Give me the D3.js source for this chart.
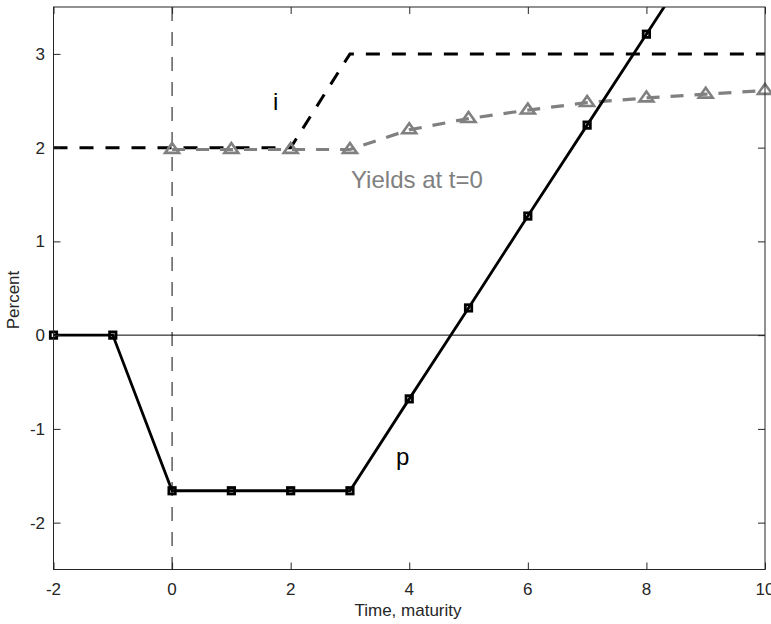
<!DOCTYPE html>
<html>
<head>
<meta charset="utf-8">
<script src="https://cdn.jsdelivr.net/npm/d3@7"></script>
<style>
  html, body { margin: 0; padding: 0; background: #fff; }
  svg { display: block; font-family: "Liberation Sans", Arial, Helvetica, sans-serif; }
</style>
</head>
<body>
<svg id="chart" width="771" height="624"></svg>
<script>
// Time / maturity grid
const tP = [-2, -1, 0, 1, 2, 3, 4, 5, 6, 7, 8, 9, 10];
// Price path p
const pVals = [0, 0, -1.66, -1.66, -1.66, -1.66, -0.68, 0.29, 1.27, 2.24, 3.21, 4.18, 5.15];
// Interest rate path i
const tI = [-2, 2, 3, 10];
const iVals = [2, 2, 3, 3];
// Yield curve at t=0
const tY = [0, 1, 2, 3, 4, 5, 6, 7, 8, 9, 10];
const yVals = [1.98, 1.98, 1.98, 1.98, 2.19, 2.31, 2.40, 2.48, 2.53, 2.57, 2.61];
// Axis ticks
const xTicks = [-2, 0, 2, 4, 6, 8, 10];
const yTicks = [-2, -1, 0, 1, 2, 3];

const svg = d3.select("#chart");
const pLeft = 53.5, pRight = 765, pTop = 7, pBottom = 569.5;
const axisColor = "#262626";
const grey = "#808080";

const x = d3.scaleLinear().domain([-2, 10]).range([pLeft, pRight]);
const y = d3.scaleLinear().domain([-2.5, 3.5]).range([pBottom, pTop]);

svg.append("defs").append("clipPath").attr("id", "plotClip")
  .append("rect").attr("x", pLeft).attr("y", pTop)
  .attr("width", pRight - pLeft).attr("height", pBottom - pTop);

const plot = svg.append("g");
const lineClip = plot.append("g").attr("clip-path", "url(#plotClip)");

// Reference lines: t = 0 and zero level
lineClip.append("line")
  .attr("x1", x(0)).attr("x2", x(0)).attr("y1", pTop).attr("y2", pBottom)
  .attr("stroke", "#333").attr("stroke-width", 1.2)
  .attr("stroke-dasharray", "14,11");
lineClip.append("line")
  .attr("x1", pLeft).attr("x2", pRight).attr("y1", y(0)).attr("y2", y(0))
  .attr("stroke", "#000").attr("stroke-width", 1);

const line = d3.line().x(d => x(d[0])).y(d => y(d[1]));

// i
lineClip.append("path")
  .datum(tI.map((t, k) => [t, iVals[k]]))
  .attr("d", line).attr("fill", "none")
  .attr("stroke", "#000").attr("stroke-width", 3)
  .attr("stroke-dasharray", "14,12");

// Yields at t=0
lineClip.append("path")
  .datum(tY.map((t, k) => [t, yVals[k]]))
  .attr("d", line).attr("fill", "none")
  .attr("stroke", grey).attr("stroke-width", 3.2)
  .attr("stroke-dasharray", "13,11");

const [yLo, yHi] = y.domain();
plot.append("g").selectAll("path")
  .data(tY.map((t, k) => [t, yVals[k]]).filter(d => d[1] >= yLo && d[1] <= yHi))
  .join("path")
  .attr("transform", d => `translate(${x(d[0])},${y(d[1])})`)
  .attr("d", "M0,-6.5L7,3.4L-7,3.4Z")
  .attr("fill", "none").attr("stroke", grey).attr("stroke-width", 2.6)
  .attr("stroke-linejoin", "miter");

// p
lineClip.append("path")
  .datum(tP.map((t, k) => [t, pVals[k]]))
  .attr("d", line).attr("fill", "none")
  .attr("stroke", "#000").attr("stroke-width", 2.8);

plot.append("g").selectAll("rect")
  .data(tP.map((t, k) => [t, pVals[k]]).filter(d => d[1] >= yLo && d[1] <= yHi))
  .join("rect")
  .attr("x", d => x(d[0]) - 3.2).attr("y", d => y(d[1]) - 3.2)
  .attr("width", 6.4).attr("height", 6.4)
  .attr("fill", "none").attr("stroke", "#000").attr("stroke-width", 2.8);

// Annotations
plot.append("text").attr("x", 273).attr("y", 110)
  .attr("font-size", 24).attr("fill", "#000").text("i");
plot.append("text").attr("x", 396).attr("y", 465)
  .attr("font-size", 24).attr("fill", "#000").text("p");
plot.append("text").attr("x", 351).attr("y", 188)
  .attr("font-size", 24).attr("fill", grey).text("Yields at t=0");

// Axes box with inward ticks on all sides
const tickLen = 7;
const ax = svg.append("g").attr("stroke", axisColor).attr("stroke-width", 1).attr("fill", "none");
ax.append("rect").attr("x", pLeft).attr("y", pTop)
  .attr("width", pRight - pLeft).attr("height", pBottom - pTop);

const xAxisB = d3.axisBottom(x).tickValues(xTicks).tickSize(-tickLen).tickFormat(() => "");
const xAxisT = d3.axisTop(x).tickValues(xTicks).tickSize(-tickLen).tickFormat(() => "");
const yAxisL = d3.axisLeft(y).tickValues(yTicks).tickSize(-tickLen).tickFormat(() => "");
const yAxisR = d3.axisRight(y).tickValues(yTicks).tickSize(-tickLen).tickFormat(() => "");

function styleAxis(g) {
  g.select(".domain").remove();
  g.selectAll(".tick line").attr("stroke", axisColor);
}
svg.append("g").attr("transform", `translate(0,${pBottom})`).call(xAxisB).call(styleAxis);
svg.append("g").attr("transform", `translate(0,${pTop})`).call(xAxisT).call(styleAxis);
svg.append("g").attr("transform", `translate(${pLeft},0)`).call(yAxisL).call(styleAxis);
svg.append("g").attr("transform", `translate(${pRight},0)`).call(yAxisR).call(styleAxis);

// Tick labels
const labels = svg.append("g").attr("fill", axisColor).attr("font-size", 17);
labels.selectAll("text.xt").data(xTicks).join("text")
  .attr("class", "xt").attr("x", d => x(d)).attr("y", 595)
  .attr("text-anchor", "middle").text(d => d);
labels.selectAll("text.yt").data(yTicks).join("text")
  .attr("class", "yt").attr("x", 45).attr("y", d => y(d))
  .attr("dy", "0.36em").attr("text-anchor", "end").text(d => d);

// Axis titles
svg.append("text").attr("x", 408).attr("y", 616)
  .attr("text-anchor", "middle").attr("font-size", 17).attr("fill", axisColor)
  .text("Time, maturity");
svg.append("text").attr("transform", "translate(19,300) rotate(-90)")
  .attr("text-anchor", "middle").attr("font-size", 17).attr("fill", axisColor)
  .text("Percent");
</script>
</body>
</html>
